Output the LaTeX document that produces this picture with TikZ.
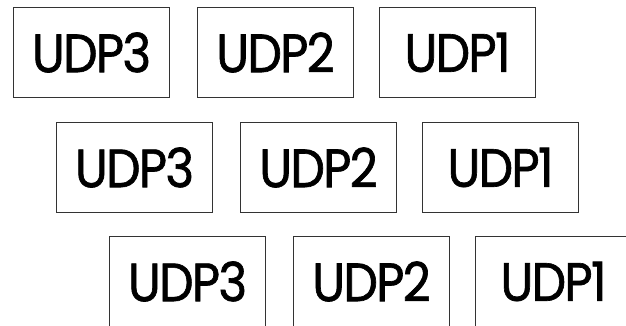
\documentclass[tikz,border=0pt]{standalone}
\usepackage{fontspec}
\newfontfamily\udpfont{Poppins}[FakeStretch=0.9, FakeBold=1.2, LetterSpace=-3]
\begin{document}
\begin{tikzpicture}[x=1pt, y=-1pt,
    udpbox/.style={draw=black!80, line width=1pt, rectangle, anchor=north west,
        minimum width=156pt, minimum height=90pt, inner sep=0pt,
        font=\udpfont\fontsize{54}{60}\selectfont}]
    \useasboundingbox (0,0) rectangle (626,325);
    \clip (0,0) rectangle (626,325);
    % three rows, each one shifted to the right
    \foreach \row/\x/\y in {1/13/7, 2/56/122, 3/109/236} {
        \foreach \n/\dx in {3/0, 2/184, 1/366} {
            \node[udpbox] (r\row u\n) at (\x+\dx,\y) {UDP\n};
        }
    }
\end{tikzpicture}
\end{document}
